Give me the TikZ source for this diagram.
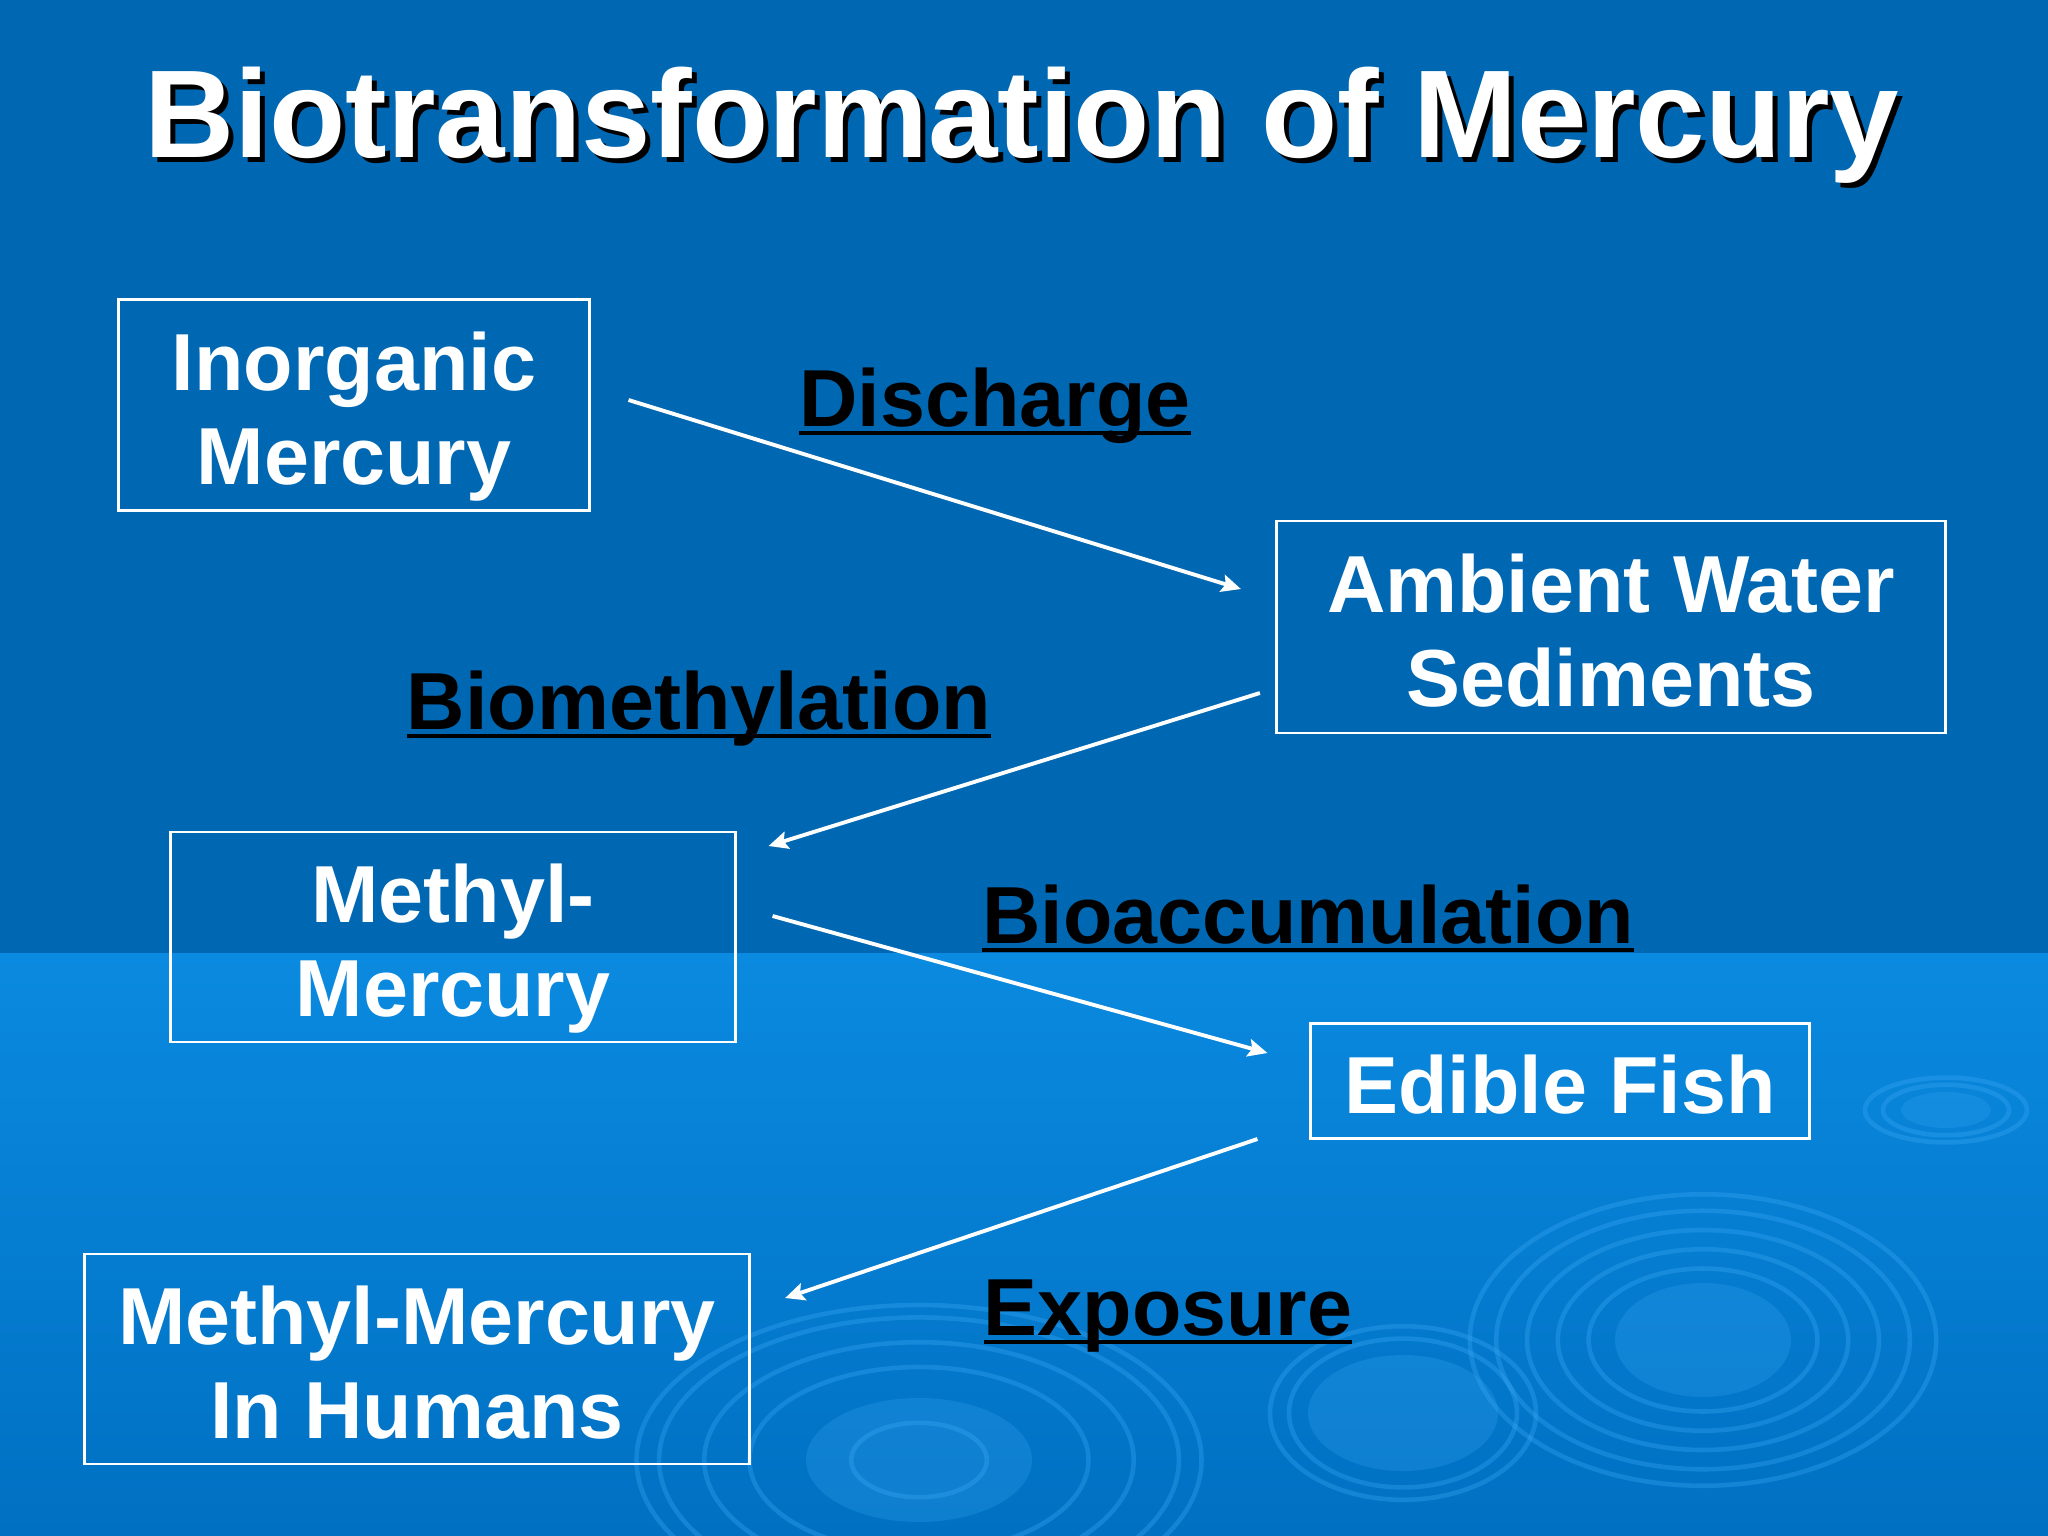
\documentclass[tikz,border=0pt]{standalone}
\usepackage{fontspec}
\setmainfont{Liberation Sans}
\usetikzlibrary{calc,arrows.meta}

\definecolor{topblue}{HTML}{0068B2}
\definecolor{seablue}{HTML}{0A8AE0}
\definecolor{deepblue}{HTML}{0070C2}
\definecolor{ringblue}{HTML}{3AA8F5}

% underlined step label
\newcommand{\ulab}[1]{\setbox0\hbox{#1}\rlap{\rule[-0.115em]{\wd0}{0.05em}}\box0}
% line struts for box text
\newcommand{\boxtop}{\rule{0pt}{25pt}}
\newcommand{\boxbot}{\rule[-6.5pt]{0pt}{6.5pt}}

\begin{document}
\begin{tikzpicture}[x=0.01cm,y=-0.01cm,
  hgbox/.style={draw=white,line width=0.8pt,text=white,align=center,inner sep=0pt,
    font=\fontsize{23}{26.6}\selectfont\bfseries},
  steplabel/.style={anchor=base,text=black,font=\fontsize{23}{27}\selectfont\bfseries},
  headline/.style={anchor=base,font=\fontsize{35.5}{40}\selectfont\bfseries},
  flow/.style={draw=white,line width=1.1pt,-{Stealth[length=5.5pt,width=5pt,inset=1pt]}},
  ring/.style={draw=ringblue,draw opacity=0.35,line width=1.3pt},
  disc/.style={fill=ringblue,fill opacity=0.25}]
\useasboundingbox (0,0) rectangle (2048,1536);
% background
\fill[topblue] (0,0) rectangle (2048,953);
\shade[top color=seablue,bottom color=deepblue] (0,953) rectangle (2048,1536);
% ripples
\fill[disc] (1703,1340) ellipse [x radius=88,y radius=57];
\foreach \s in {1.3,1.65,2.0,2.35,2.65}
  \draw[ring] (1703,1340) ellipse [x radius=88*\s,y radius=55*\s];
\fill[disc] (1403,1413) ellipse [x radius=95,y radius=58];
\foreach \s in {1.2,1.4}
  \draw[ring] (1403,1413) ellipse [x radius=95*\s,y radius=62*\s];
\fill[disc] (919,1460) ellipse [x radius=113,y radius=62];
\foreach \s in {0.6,1.5,1.9,2.3,2.5}
  \draw[ring] (919,1460) ellipse [x radius=113*\s,y radius=62*\s];
\fill[disc] (1946,1110) ellipse [x radius=45,y radius=18];
\foreach \s in {1.4,1.8}
  \draw[ring] (1946,1110) ellipse [x radius=45*\s,y radius=18*\s];
% title
\node[headline,text=black] (titleshadow) at (1027,162) {Biotransformation of Mercury};
\node[headline,text=white] (title) at (1022,157) {Biotransformation of Mercury};
% boxes
\node[hgbox,minimum width=4.70cm,minimum height=2.11cm] (inorg) at (354,405) {\boxtop Inorganic\\Mercury\boxbot};
\node[hgbox,minimum width=6.69cm,minimum height=2.12cm] (ambient) at (1611,627) {\boxtop Ambient Water\\Sediments\boxbot};
\node[hgbox,minimum width=5.64cm,minimum height=2.10cm] (methyl) at (453,937) {\boxtop Methyl-\\Mercury\boxbot};
\node[hgbox,minimum width=4.98cm,minimum height=1.15cm] (fish) at (1560,1081) {\boxtop Edible Fish\boxbot};
\node[hgbox,minimum width=6.65cm,minimum height=2.10cm] (humans) at (417,1359) {\boxtop Methyl-Mercury\\In Humans\boxbot};
% step labels
\node[steplabel] (discharge) at (995,426) {\ulab{Discharge}};
\node[steplabel] (biomethyl) at (699,729) {\ulab{Biomethylation}};
\node[steplabel] (bioaccum) at (1308,943) {\ulab{Bioaccumulation}};
\node[steplabel] (exposure) at (1168,1335) {\ulab{Exposure}};
% arrows
\draw[flow] ($(inorg.east)+(38,-5)$) -- ($(ambient.west)+(-34,-38)$);
\draw[flow] ($(ambient.west)+(-15,66)$) -- ($(methyl.east)+(32,-91)$);
\draw[flow] ($(methyl.east)+(36,-21)$) -- ($(fish.west)+(-42,-28)$);
\draw[flow] ($(fish.west)+(-52,58)$) -- ($(humans.east)+(34,-61)$);
\end{tikzpicture}
\end{document}
